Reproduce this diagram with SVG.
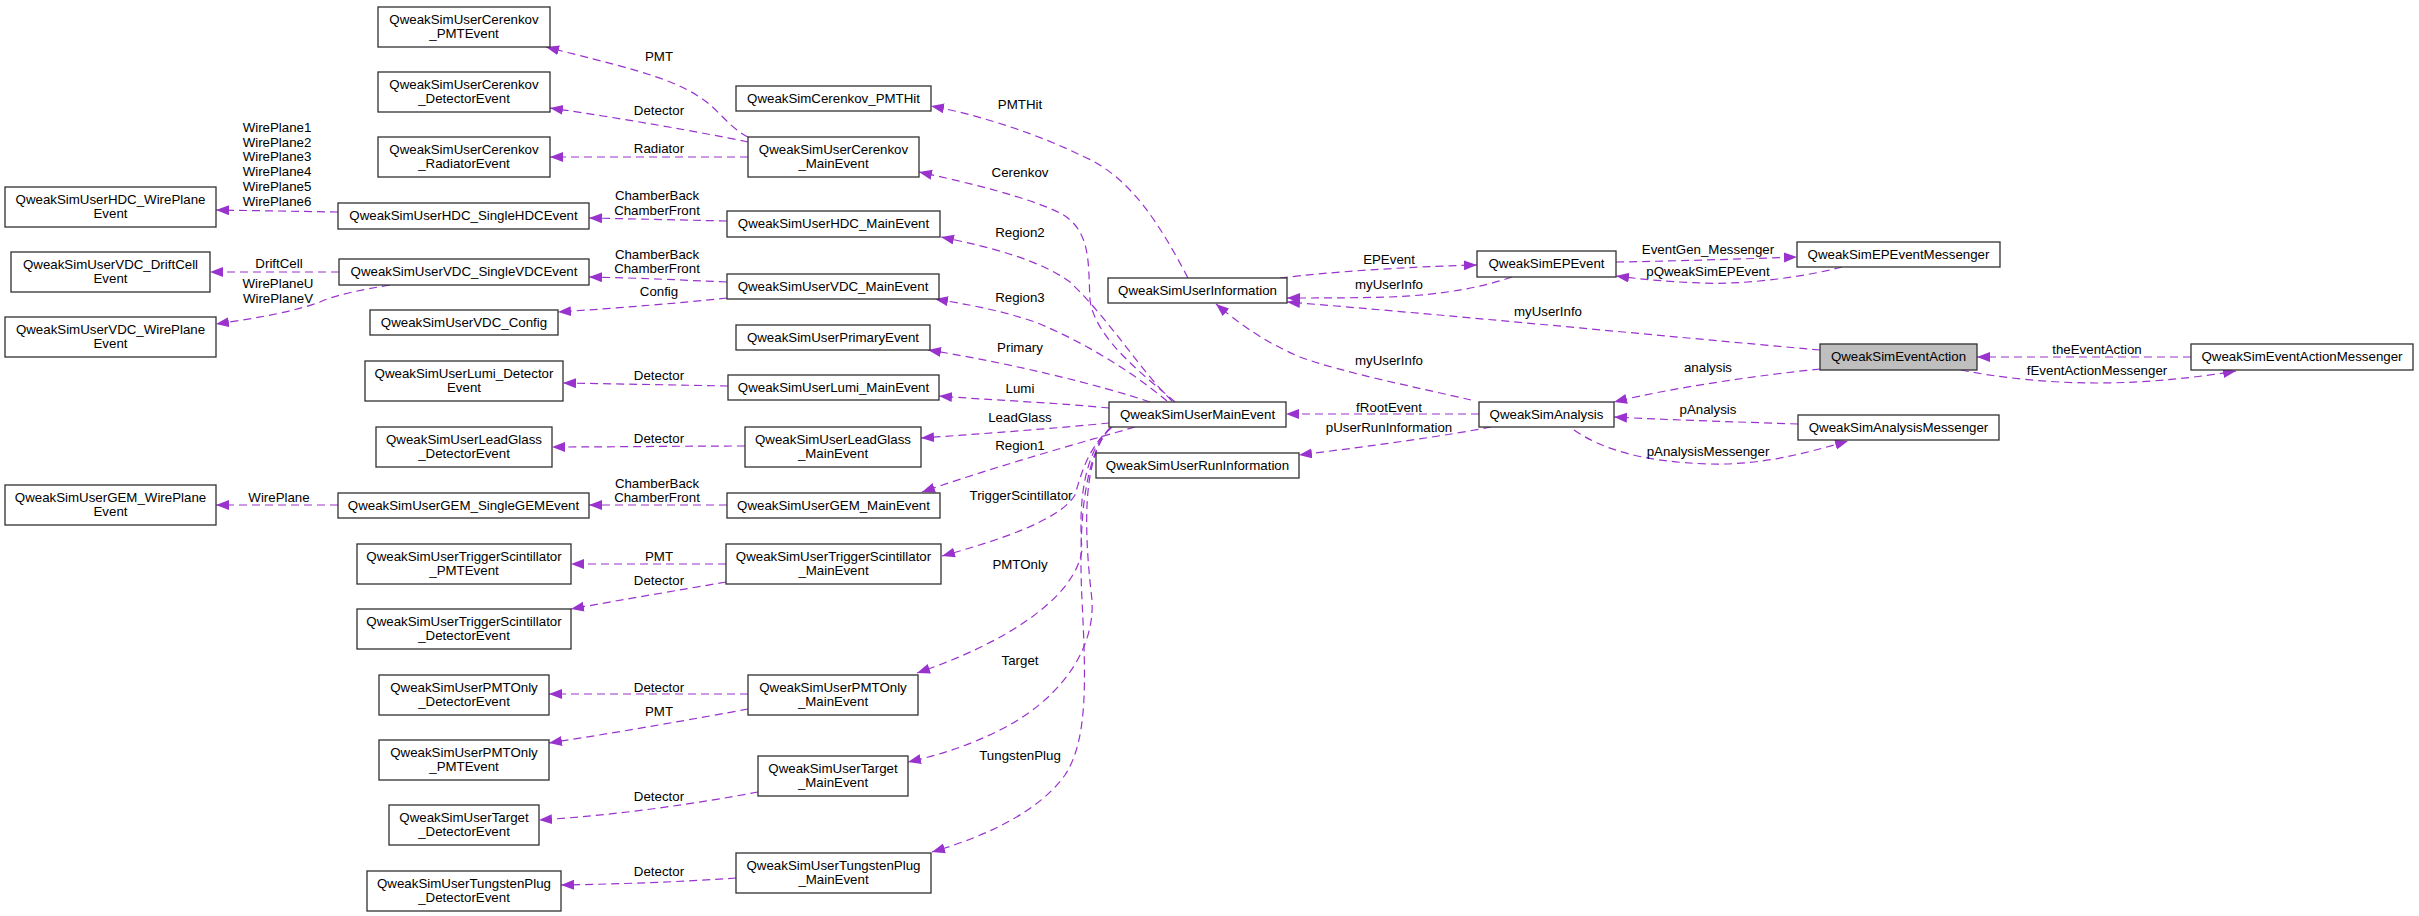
<svg xmlns="http://www.w3.org/2000/svg" width="2419" height="916" viewBox="0 0 2419 916">
<style>
text{font-family:"Liberation Sans",Arial,Helvetica,sans-serif;font-size:13.3px;fill:#000}
.n rect{fill:#fff;stroke:#303030;stroke-width:1.3}
.n text{text-anchor:middle}
#EventAction rect{fill:#bfbfbf}
.e path{fill:none;stroke:#9a32cd;stroke-width:1.2;stroke-dasharray:8,5;marker-end:url(#a)}
.l text{text-anchor:middle}
</style>
<defs>
<marker id="a" markerWidth="14" markerHeight="11" refX="13" refY="5" orient="auto" markerUnits="userSpaceOnUse"><path d="M0,0 L13,5 L0,10 z" fill="#9a32cd" stroke="none"/></marker>
</defs>
<rect width="2419" height="916" fill="#fff"/>
<g class="e" id="edges">
<path d="M748,137 C728,127 718,108 698,96 C668,76 612,64 546,47"/>
<path d="M748,142 C700,132 620,118 550,108"/>
<path d="M748,157 L550,157"/>
<path d="M1188,278 C1160,225 1130,175 1080,155 C1040,135 980,115 931,106"/>
<path d="M1175,402 C1150,380 1095,340 1090,300 C1088,265 1092,230 1060,213 C1030,198 970,183 919,172"/>
<path d="M1172,401 C1140,370 1110,320 1070,282 C1040,260 990,247 941,237"/>
<path d="M1167,401 C1130,370 1080,340 1035,322 C1000,310 965,304 935,299"/>
<path d="M1150,402 C1100,385 1010,363 928,350"/>
<path d="M1109,408 C1060,403 990,400 939,396"/>
<path d="M1109,423 C1060,428 980,434 921,438"/>
<path d="M1135,427 C1090,440 1000,465 922,492"/>
<path d="M1112,427 C1090,445 1082,470 1075,495 C1060,520 1000,540 942,556"/>
<path d="M1111,428 C1085,450 1078,500 1082,550 C1075,600 1000,645 917,673"/>
<path d="M1110,428 C1080,460 1085,540 1092,600 C1095,650 1060,700 1000,730 C970,745 940,755 908,762"/>
<path d="M1110,428 C1085,455 1078,520 1082,600 C1086,680 1088,740 1065,775 C1040,810 990,835 932,852"/>
<path d="M727,221 C680,220 640,219 589,218"/>
<path d="M727,282 C680,280 640,278 589,277"/>
<path d="M727,298 C680,303 620,308 558,312"/>
<path d="M728,386 C680,385 620,384 563,383"/>
<path d="M745,446 C680,446 620,447 552,447"/>
<path d="M727,505 L589,505"/>
<path d="M726,564 L571,564"/>
<path d="M726,582 C680,590 620,600 571,609"/>
<path d="M748,694 L549,694"/>
<path d="M748,709 C700,718 620,732 549,743"/>
<path d="M758,792 C700,803 620,815 539,820"/>
<path d="M736,878 C680,882 620,884 561,885"/>
<path d="M338,212 L216,210"/>
<path d="M339,272 L210,272"/>
<path d="M390,285 C360,290 335,295 320,302 C290,313 250,319 216,324"/>
<path d="M338,505 L216,505"/>
<path d="M1280,278 C1330,272 1400,267 1477,265"/>
<path d="M1512,277 C1480,288 1440,295 1390,297 C1350,298 1320,298 1287,298"/>
<path d="M1616,262 C1680,261 1740,259 1797,257"/>
<path d="M1842,267 C1800,278 1740,285 1700,283 C1670,282 1640,279 1616,276"/>
<path d="M1820,350 C1650,335 1450,315 1287,302"/>
<path d="M1471,400 C1420,388 1340,372 1300,357 C1260,340 1235,320 1216,304"/>
<path d="M1820,369 C1760,375 1670,388 1614,402"/>
<path d="M1479,414 L1286,414"/>
<path d="M1491,427 C1450,435 1380,445 1299,455"/>
<path d="M1798,424 C1740,422 1670,420 1614,417"/>
<path d="M1574,430 C1600,448 1640,462 1710,464 C1760,465 1800,455 1848,441"/>
<path d="M2191,357 L1977,357"/>
<path d="M1961,370 C2000,378 2050,383 2097,383 C2150,383 2200,377 2236,371"/>
</g>
<g class="l" id="edge-labels">
<text x="659" y="61">PMT</text>
<text x="659" y="115">Detector</text>
<text x="659" y="153">Radiator</text>
<text x="1020" y="109">PMTHit</text>
<text x="1020" y="177">Cerenkov</text>
<text x="657" y="200">ChamberBack</text>
<text x="657" y="215">ChamberFront</text>
<text x="1020" y="237">Region2</text>
<text x="657" y="259">ChamberBack</text>
<text x="657" y="273">ChamberFront</text>
<text x="659" y="296">Config</text>
<text x="1020" y="302">Region3</text>
<text x="1020" y="352">Primary</text>
<text x="659" y="380">Detector</text>
<text x="1020" y="393">Lumi</text>
<text x="1020" y="422">LeadGlass</text>
<text x="659" y="443">Detector</text>
<text x="1020" y="450">Region1</text>
<text x="657" y="488">ChamberBack</text>
<text x="657" y="502">ChamberFront</text>
<text x="1021" y="500">TriggerScintillator</text>
<text x="659" y="561">PMT</text>
<text x="1020" y="569">PMTOnly</text>
<text x="659" y="585">Detector</text>
<text x="1020" y="665">Target</text>
<text x="659" y="692">Detector</text>
<text x="659" y="716">PMT</text>
<text x="1020" y="760">TungstenPlug</text>
<text x="659" y="801">Detector</text>
<text x="659" y="876">Detector</text>
<text x="277" y="132">WirePlane1</text>
<text x="277" y="146.7">WirePlane2</text>
<text x="277" y="161.4">WirePlane3</text>
<text x="277" y="176.1">WirePlane4</text>
<text x="277" y="190.8">WirePlane5</text>
<text x="277" y="205.5">WirePlane6</text>
<text x="279" y="268">DriftCell</text>
<text x="278" y="288">WirePlaneU</text>
<text x="278" y="303">WirePlaneV</text>
<text x="279" y="502">WirePlane</text>
<text x="1389" y="264">EPEvent</text>
<text x="1389" y="289">myUserInfo</text>
<text x="1708" y="254">EventGen_Messenger</text>
<text x="1708" y="276">pQweakSimEPEvent</text>
<text x="1548" y="316">myUserInfo</text>
<text x="1389" y="365">myUserInfo</text>
<text x="1708" y="372">analysis</text>
<text x="1389" y="412">fRootEvent</text>
<text x="1389" y="432">pUserRunInformation</text>
<text x="1708" y="414">pAnalysis</text>
<text x="1708" y="456">pAnalysisMessenger</text>
<text x="2097" y="354">theEventAction</text>
<text x="2097" y="375">fEventActionMessenger</text>
</g>
<g class="n" id="Cerenkov_PMTEvent"><rect x="378" y="7" width="172" height="40"/><text x="464" y="24">QweakSimUserCerenkov</text><text x="464" y="38">_PMTEvent</text></g>
<g class="n" id="Cerenkov_DetectorEvent"><rect x="378" y="72" width="172" height="40"/><text x="464" y="89">QweakSimUserCerenkov</text><text x="464" y="103">_DetectorEvent</text></g>
<g class="n" id="Cerenkov_RadiatorEvent"><rect x="378" y="137" width="172" height="40"/><text x="464" y="154">QweakSimUserCerenkov</text><text x="464" y="168">_RadiatorEvent</text></g>
<g class="n" id="HDC_WirePlaneEvent"><rect x="5" y="187" width="211" height="40"/><text x="110.5" y="204">QweakSimUserHDC_WirePlane</text><text x="110.5" y="218">Event</text></g>
<g class="n" id="HDC_SingleHDCEvent"><rect x="338" y="203" width="251" height="26"/><text x="463.5" y="220">QweakSimUserHDC_SingleHDCEvent</text></g>
<g class="n" id="VDC_DriftCellEvent"><rect x="11" y="252" width="199" height="40"/><text x="110.5" y="269">QweakSimUserVDC_DriftCell</text><text x="110.5" y="283">Event</text></g>
<g class="n" id="VDC_SingleVDCEvent"><rect x="339" y="259" width="250" height="26"/><text x="464" y="276">QweakSimUserVDC_SingleVDCEvent</text></g>
<g class="n" id="VDC_Config"><rect x="370" y="310" width="188" height="25"/><text x="464" y="327">QweakSimUserVDC_Config</text></g>
<g class="n" id="VDC_WirePlaneEvent"><rect x="5" y="317" width="211" height="40"/><text x="110.5" y="334">QweakSimUserVDC_WirePlane</text><text x="110.5" y="348">Event</text></g>
<g class="n" id="Lumi_DetectorEvent"><rect x="365" y="361" width="198" height="40"/><text x="464" y="378">QweakSimUserLumi_Detector</text><text x="464" y="392">Event</text></g>
<g class="n" id="LeadGlass_DetectorEvent"><rect x="376" y="427" width="176" height="40"/><text x="464" y="444">QweakSimUserLeadGlass</text><text x="464" y="458">_DetectorEvent</text></g>
<g class="n" id="GEM_WirePlaneEvent"><rect x="5" y="485" width="211" height="40"/><text x="110.5" y="502">QweakSimUserGEM_WirePlane</text><text x="110.5" y="516">Event</text></g>
<g class="n" id="GEM_SingleGEMEvent"><rect x="338" y="493" width="251" height="25"/><text x="463.5" y="510">QweakSimUserGEM_SingleGEMEvent</text></g>
<g class="n" id="TS_PMTEvent"><rect x="357" y="544" width="214" height="40"/><text x="464" y="561">QweakSimUserTriggerScintillator</text><text x="464" y="575">_PMTEvent</text></g>
<g class="n" id="TS_DetectorEvent"><rect x="357" y="609" width="214" height="40"/><text x="464" y="626">QweakSimUserTriggerScintillator</text><text x="464" y="640">_DetectorEvent</text></g>
<g class="n" id="PMTOnly_DetectorEvent"><rect x="379" y="675" width="170" height="40"/><text x="464" y="692">QweakSimUserPMTOnly</text><text x="464" y="706">_DetectorEvent</text></g>
<g class="n" id="PMTOnly_PMTEvent"><rect x="379" y="740" width="170" height="40"/><text x="464" y="757">QweakSimUserPMTOnly</text><text x="464" y="771">_PMTEvent</text></g>
<g class="n" id="Target_DetectorEvent"><rect x="389" y="805" width="150" height="40"/><text x="464" y="822">QweakSimUserTarget</text><text x="464" y="836">_DetectorEvent</text></g>
<g class="n" id="Tungsten_DetectorEvent"><rect x="367" y="871" width="194" height="40"/><text x="464" y="888">QweakSimUserTungstenPlug</text><text x="464" y="902">_DetectorEvent</text></g>
<g class="n" id="Cerenkov_PMTHit"><rect x="736" y="86" width="195" height="25"/><text x="833.5" y="103">QweakSimCerenkov_PMTHit</text></g>
<g class="n" id="Cerenkov_MainEvent"><rect x="748" y="137" width="171" height="40"/><text x="833.5" y="154">QweakSimUserCerenkov</text><text x="833.5" y="168">_MainEvent</text></g>
<g class="n" id="HDC_MainEvent"><rect x="727" y="211" width="213" height="26"/><text x="833.5" y="228">QweakSimUserHDC_MainEvent</text></g>
<g class="n" id="VDC_MainEvent"><rect x="727" y="274" width="212" height="25"/><text x="833" y="291">QweakSimUserVDC_MainEvent</text></g>
<g class="n" id="PrimaryEvent"><rect x="736" y="325" width="194" height="25"/><text x="833" y="342">QweakSimUserPrimaryEvent</text></g>
<g class="n" id="Lumi_MainEvent"><rect x="728" y="375" width="211" height="25"/><text x="833.5" y="392">QweakSimUserLumi_MainEvent</text></g>
<g class="n" id="LeadGlass_MainEvent"><rect x="745" y="427" width="176" height="40"/><text x="833" y="444">QweakSimUserLeadGlass</text><text x="833" y="458">_MainEvent</text></g>
<g class="n" id="GEM_MainEvent"><rect x="727" y="493" width="213" height="25"/><text x="833.5" y="510">QweakSimUserGEM_MainEvent</text></g>
<g class="n" id="TS_MainEvent"><rect x="726" y="544" width="215" height="40"/><text x="833.5" y="561">QweakSimUserTriggerScintillator</text><text x="833.5" y="575">_MainEvent</text></g>
<g class="n" id="PMTOnly_MainEvent"><rect x="748" y="675" width="170" height="40"/><text x="833" y="692">QweakSimUserPMTOnly</text><text x="833" y="706">_MainEvent</text></g>
<g class="n" id="Target_MainEvent"><rect x="758" y="756" width="150" height="40"/><text x="833" y="773">QweakSimUserTarget</text><text x="833" y="787">_MainEvent</text></g>
<g class="n" id="Tungsten_MainEvent"><rect x="736" y="853" width="195" height="40"/><text x="833.5" y="870">QweakSimUserTungstenPlug</text><text x="833.5" y="884">_MainEvent</text></g>
<g class="n" id="UserMainEvent"><rect x="1109" y="402" width="177" height="25"/><text x="1197.5" y="419">QweakSimUserMainEvent</text></g>
<g class="n" id="UserInformation"><rect x="1108" y="278" width="179" height="25"/><text x="1197.5" y="295">QweakSimUserInformation</text></g>
<g class="n" id="UserRunInformation"><rect x="1096" y="453" width="203" height="25"/><text x="1197.5" y="470">QweakSimUserRunInformation</text></g>
<g class="n" id="EPEvent"><rect x="1477" y="251" width="139" height="26"/><text x="1546.5" y="268">QweakSimEPEvent</text></g>
<g class="n" id="EPEventMessenger"><rect x="1797" y="242" width="203" height="25"/><text x="1898.5" y="259">QweakSimEPEventMessenger</text></g>
<g class="n" id="Analysis"><rect x="1479" y="402" width="135" height="25"/><text x="1546.5" y="419">QweakSimAnalysis</text></g>
<g class="n" id="AnalysisMessenger"><rect x="1798" y="415" width="201" height="25"/><text x="1898.5" y="432">QweakSimAnalysisMessenger</text></g>
<g class="n" id="EventAction"><rect x="1820" y="344" width="157" height="26"/><text x="1898.5" y="361">QweakSimEventAction</text></g>
<g class="n" id="EventActionMessenger"><rect x="2191" y="344" width="222" height="26"/><text x="2302" y="361">QweakSimEventActionMessenger</text></g>
</svg>
